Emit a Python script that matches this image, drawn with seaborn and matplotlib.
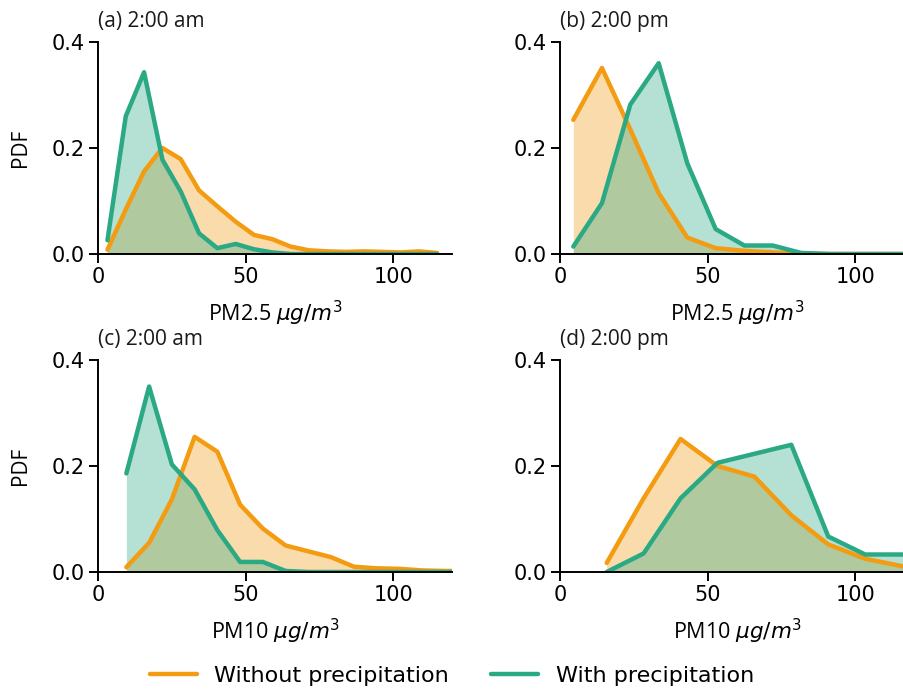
import numpy as np
import pandas as pd
import matplotlib.pyplot as plt
import seaborn as sns

# bin centres and PDF values
x_a = [3.2, 9.4, 15.6, 21.8, 28.0, 34.2, 40.4, 46.6, 52.8, 59.0, 65.2, 71.4,
       77.6, 83.8, 90.0, 96.2, 102.4, 108.6, 114.8]
dry_a = [0.008, 0.084, 0.156, 0.200, 0.179, 0.120, 0.090, 0.061, 0.036, 0.028,
         0.014, 0.007, 0.005, 0.004, 0.005, 0.004, 0.003, 0.005, 0.002]
wet_a = [0.026, 0.260, 0.343, 0.178, 0.118, 0.039, 0.011, 0.019, 0.009, 0.003,
         0.0, 0.0, 0.0, 0.0, 0.0, 0.0, 0.0, 0.0, 0.0]

x_b = [4.5, 14.2, 23.8, 33.4, 43.1, 52.7, 62.4, 72.0, 81.6, 91.3, 100.9, 110.6, 120.2]
dry_b = [0.253, 0.351, 0.235, 0.115, 0.031, 0.011, 0.006, 0.003, 0.001, 0.0, 0.0, 0.0, 0.0]
wet_b = [0.014, 0.096, 0.282, 0.360, 0.171, 0.047, 0.016, 0.016, 0.002, 0.0, 0.0, 0.0, 0.0]

x_c = [9.6, 17.3, 25.0, 32.7, 40.4, 48.1, 55.8, 63.5, 71.2, 78.9, 86.6, 94.3,
       102.0, 109.7, 117.4, 125.1]
dry_c = [0.009, 0.055, 0.137, 0.255, 0.227, 0.127, 0.082, 0.050, 0.039, 0.028,
         0.010, 0.007, 0.006, 0.003, 0.002, 0.002]
wet_c = [0.186, 0.350, 0.203, 0.156, 0.079, 0.019, 0.019, 0.002, 0.0, 0.0,
         0.0, 0.0, 0.0, 0.0, 0.0, 0.0]

x_d = [15.8, 28.3, 40.8, 53.3, 65.8, 78.3, 90.8, 103.3, 115.8, 128.3]
dry_d = [0.017, 0.139, 0.251, 0.200, 0.180, 0.107, 0.052, 0.025, 0.011, 0.006]
wet_d = [0.0, 0.035, 0.139, 0.206, 0.223, 0.240, 0.067, 0.033, 0.033, 0.030]

titles = ["(a) 2:00 am", "(b) 2:00 pm", "(c) 2:00 am", "(d) 2:00 pm"]
xlabels = [r"PM2.5 $\mu g/m^3$", r"PM2.5 $\mu g/m^3$", r"PM10 $\mu g/m^3$", r"PM10 $\mu g/m^3$"]
labels = ["Without precipitation", "With precipitation"]

ORANGE = "#f39c12"
GREEN = "#2ba884"
LABEL_FONT = "Open Sans"

sns.set_style("ticks")
plt.rcParams["font.family"] = ["DejaVu Sans"]
plt.rcParams["text.color"] = "black"
plt.rcParams["axes.labelcolor"] = "black"

fig = plt.figure(figsize=(9.04, 6.92), dpi=100)
W, H = 904, 692
boxes = [(98, 42), (560, 42), (98, 360), (560, 360)]
panels = [(x_a, dry_a, wet_a), (x_b, dry_b, wet_b), (x_c, dry_c, wet_c), (x_d, dry_d, wet_d)]

for i, ((left, top), (xs, dry, wet)) in enumerate(zip(boxes, panels)):
    ax = fig.add_axes([left / W, (H - top - 212) / H, 354.5 / W, 212 / H])
    df = pd.DataFrame({"x": xs * 2, "pdf": dry + wet,
                       "case": [labels[0]] * len(xs) + [labels[1]] * len(xs)})
    for lab, col in zip(labels, [ORANGE, GREEN]):
        sub = df[df["case"] == lab]
        ax.fill_between(sub["x"], sub["pdf"], color=col, alpha=0.35, lw=0)
    sns.lineplot(data=df, x="x", y="pdf", hue="case", palette=[ORANGE, GREEN],
                 lw=3.2, ax=ax, legend=(i == 0))
    ax.set_xlim(0, 120)
    ax.set_ylim(0, 0.4)
    ax.set_xticks([0, 50, 100])
    ax.set_yticks([0, 0.2, 0.4])
    ax.tick_params(labelsize=15, width=1.4, length=6.5, pad=3, colors="black")
    for s in ["left", "bottom"]:
        ax.spines[s].set_linewidth(1.4)
        ax.spines[s].set_color("black")
    sns.despine(ax=ax)
    ax.set_title(titles[i], loc="left", fontsize=15, family=LABEL_FONT, pad=11,
                 color="#1a1a1a")
    ax.set_xlabel(xlabels[i], fontsize=15.5, family=LABEL_FONT, labelpad=8)
    if i % 2 == 0:
        ax.set_ylabel("PDF", fontsize=15, family=LABEL_FONT, labelpad=15)
    else:
        ax.set_ylabel("")
    if i == 0:
        handles, labs = ax.get_legend_handles_labels()
        ax.get_legend().remove()

fig.legend(handles, labs, loc="center", ncol=2, frameon=False, fontsize=16,
           bbox_to_anchor=(0.5, 16 / H), columnspacing=1.9, handlelength=2.1)

fig.savefig("out.png", dpi=100)
